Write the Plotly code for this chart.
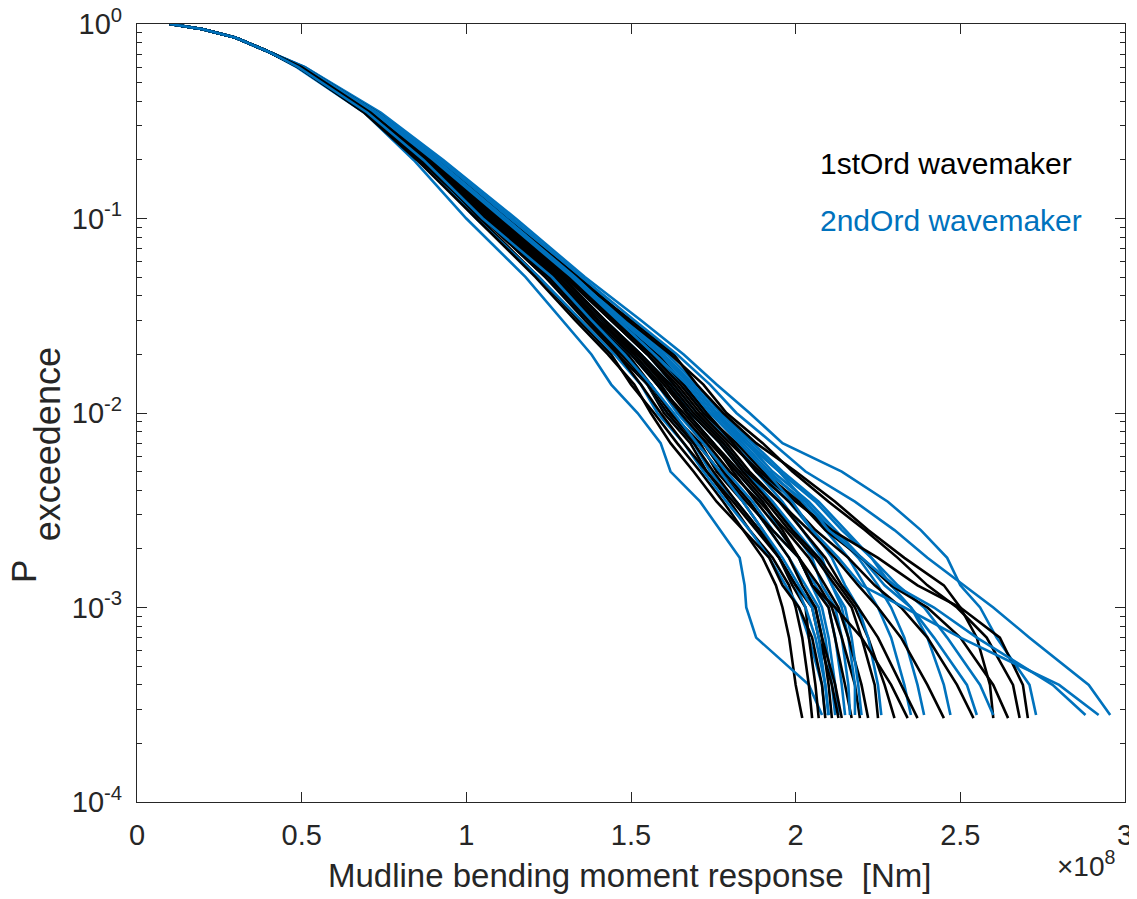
import plotly.graph_objects as go

# Upper part of the exceedance curves, where all runs coincide
p_top = [1.0, 0.94, 0.85, 0.72]
x_top = [0.10, 0.20, 0.30, 0.40]

# Exceedance probability levels at which each run's response is read (last = 1/N)
p_levels = [0.6, 0.35, 0.2, 0.1, 0.05, 0.03, 0.02, 0.014, 0.01, 0.007,
            0.005, 0.0035, 0.0025, 0.0018, 0.0013, 0.001, 0.0007, 0.0004]
p_min_black = 2.7e-4
p_min_blue = 2.8e-4

# Mudline bending moment [x1e8 Nm] for each 1st-order wavemaker run
black_runs = [
    [0.495, 0.70, 0.86, 1.04, 1.22, 1.34, 1.44, 1.50, 1.57, 1.64, 1.71, 1.78, 1.84, 1.90, 1.94, 1.96, 1.98, 2.00, 2.02],
    [0.49, 0.70, 0.87, 1.05, 1.24, 1.37, 1.46, 1.55, 1.60, 1.68, 1.73, 1.80, 1.86, 1.93, 1.98, 2.00, 2.02, 2.04, 2.05],
    [0.50, 0.71, 0.88, 1.07, 1.27, 1.38, 1.49, 1.56, 1.62, 1.71, 1.76, 1.84, 1.90, 1.95, 1.99, 2.03, 2.04, 2.06, 2.07],
    [0.49, 0.69, 0.85, 1.03, 1.21, 1.33, 1.43, 1.51, 1.56, 1.62, 1.69, 1.76, 1.84, 1.92, 1.96, 2.01, 2.05, 2.08, 2.09],
    [0.50, 0.71, 0.88, 1.08, 1.28, 1.41, 1.51, 1.58, 1.65, 1.72, 1.78, 1.86, 1.92, 1.98, 2.02, 2.06, 2.08, 2.10, 2.11],
    [0.495, 0.70, 0.87, 1.06, 1.26, 1.38, 1.48, 1.55, 1.61, 1.69, 1.75, 1.82, 1.89, 1.95, 2.00, 2.05, 2.07, 2.11, 2.13],
    [0.50, 0.72, 0.89, 1.09, 1.29, 1.42, 1.53, 1.61, 1.67, 1.75, 1.81, 1.88, 1.95, 2.01, 2.05, 2.10, 2.12, 2.15, 2.17],
    [0.49, 0.70, 0.86, 1.05, 1.25, 1.37, 1.47, 1.56, 1.62, 1.70, 1.77, 1.85, 1.93, 2.01, 2.07, 2.11, 2.14, 2.18, 2.195],
    [0.50, 0.71, 0.88, 1.07, 1.28, 1.40, 1.51, 1.59, 1.65, 1.73, 1.80, 1.89, 1.97, 2.04, 2.09, 2.13, 2.16, 2.20, 2.22],
    [0.50, 0.71, 0.89, 1.08, 1.29, 1.42, 1.52, 1.61, 1.68, 1.77, 1.84, 1.92, 1.99, 2.07, 2.13, 2.18, 2.22, 2.27, 2.30],
    [0.495, 0.70, 0.87, 1.06, 1.27, 1.39, 1.50, 1.58, 1.66, 1.74, 1.82, 1.90, 1.96, 2.01, 2.05, 2.12, 2.20, 2.29, 2.34],
    [0.50, 0.72, 0.90, 1.10, 1.30, 1.44, 1.55, 1.63, 1.70, 1.79, 1.86, 1.95, 2.02, 2.09, 2.14, 2.19, 2.25, 2.32, 2.37],
    [0.50, 0.71, 0.88, 1.08, 1.29, 1.42, 1.53, 1.62, 1.69, 1.78, 1.85, 1.95, 2.04, 2.12, 2.19, 2.25, 2.32, 2.40, 2.45],
    [0.50, 0.72, 0.90, 1.11, 1.32, 1.46, 1.58, 1.66, 1.73, 1.81, 1.88, 1.98, 2.06, 2.16, 2.24, 2.32, 2.40, 2.49, 2.54],
    [0.505, 0.73, 0.91, 1.12, 1.33, 1.50, 1.63, 1.70, 1.78, 1.88, 2.00, 2.12, 2.22, 2.33, 2.45, 2.50, 2.55, 2.59, 2.60],
    [0.50, 0.72, 0.90, 1.10, 1.31, 1.45, 1.56, 1.65, 1.72, 1.82, 1.90, 2.01, 2.09, 2.20, 2.29, 2.40, 2.50, 2.60, 2.645],
    [0.505, 0.73, 0.91, 1.12, 1.34, 1.49, 1.62, 1.72, 1.79, 1.90, 1.99, 2.10, 2.21, 2.31, 2.40, 2.49, 2.58, 2.66, 2.68],
    [0.50, 0.72, 0.89, 1.09, 1.30, 1.44, 1.55, 1.64, 1.71, 1.80, 1.89, 2.00, 2.11, 2.25, 2.37, 2.50, 2.62, 2.69, 2.705],
    [0.49, 0.70, 0.86, 1.05, 1.24, 1.36, 1.46, 1.53, 1.59, 1.66, 1.73, 1.81, 1.88, 1.95, 2.00, 2.06, 2.08, 2.12, 2.14],
    [0.50, 0.71, 0.88, 1.07, 1.28, 1.40, 1.52, 1.60, 1.67, 1.75, 1.83, 1.91, 1.98, 2.06, 2.12, 2.17, 2.20, 2.24, 2.25],
]

# Mudline bending moment [x1e8 Nm] for each 2nd-order wavemaker run
blue_runs = [
    [0.485, 0.69, 0.84, 1.00, 1.18, 1.29, 1.38, 1.44, 1.52, 1.59, 1.62, 1.71, 1.77, 1.83, 1.845, 1.85, 1.88, 2.04, 2.08],
    [0.49, 0.70, 0.86, 1.03, 1.22, 1.35, 1.45, 1.53, 1.58, 1.66, 1.72, 1.79, 1.86, 1.92, 1.97, 2.01, 2.04, 2.08, 2.09],
    [0.495, 0.70, 0.87, 1.05, 1.25, 1.37, 1.48, 1.55, 1.61, 1.69, 1.74, 1.82, 1.89, 1.95, 2.00, 2.03, 2.06, 2.09, 2.10],
    [0.50, 0.71, 0.88, 1.07, 1.27, 1.39, 1.50, 1.58, 1.64, 1.72, 1.78, 1.86, 1.92, 1.98, 2.03, 2.07, 2.09, 2.11, 2.12],
    [0.50, 0.71, 0.89, 1.09, 1.29, 1.42, 1.53, 1.61, 1.67, 1.75, 1.82, 1.90, 1.95, 2.01, 2.05, 2.08, 2.10, 2.12, 2.13],
    [0.495, 0.71, 0.88, 1.07, 1.27, 1.40, 1.51, 1.59, 1.65, 1.72, 1.79, 1.87, 1.93, 2.01, 2.06, 2.10, 2.12, 2.14, 2.15],
    [0.50, 0.72, 0.90, 1.10, 1.31, 1.44, 1.55, 1.63, 1.70, 1.78, 1.85, 1.93, 1.99, 2.05, 2.08, 2.12, 2.14, 2.16, 2.165],
    [0.505, 0.72, 0.90, 1.11, 1.32, 1.46, 1.57, 1.66, 1.73, 1.81, 1.88, 1.96, 2.02, 2.08, 2.11, 2.14, 2.16, 2.18, 2.18],
    [0.50, 0.71, 0.89, 1.08, 1.29, 1.42, 1.53, 1.62, 1.68, 1.77, 1.84, 1.93, 2.00, 2.07, 2.11, 2.15, 2.17, 2.19, 2.20],
    [0.50, 0.72, 0.90, 1.10, 1.31, 1.45, 1.57, 1.66, 1.72, 1.81, 1.89, 1.98, 2.05, 2.11, 2.15, 2.19, 2.22, 2.25, 2.26],
    [0.505, 0.73, 0.91, 1.12, 1.33, 1.47, 1.59, 1.68, 1.75, 1.84, 1.92, 2.02, 2.09, 2.16, 2.21, 2.25, 2.29, 2.33, 2.35],
    [0.50, 0.72, 0.90, 1.11, 1.32, 1.46, 1.58, 1.67, 1.74, 1.83, 1.91, 2.03, 2.11, 2.19, 2.25, 2.29, 2.33, 2.37, 2.39],
    [0.505, 0.73, 0.92, 1.13, 1.35, 1.49, 1.61, 1.70, 1.77, 1.87, 1.96, 2.07, 2.15, 2.23, 2.29, 2.35, 2.40, 2.45, 2.47],
    [0.51, 0.73, 0.92, 1.13, 1.34, 1.48, 1.60, 1.69, 1.76, 1.85, 1.93, 2.04, 2.12, 2.20, 2.27, 2.35, 2.42, 2.52, 2.55],
    [0.50, 0.72, 0.91, 1.12, 1.33, 1.47, 1.59, 1.68, 1.75, 1.85, 1.95, 2.06, 2.14, 2.23, 2.31, 2.39, 2.46, 2.56, 2.60],
    [0.51, 0.74, 0.93, 1.15, 1.36, 1.53, 1.66, 1.76, 1.86, 1.96, 2.14, 2.28, 2.38, 2.46, 2.50, 2.56, 2.61, 2.71, 2.73],
    [0.505, 0.73, 0.92, 1.14, 1.35, 1.51, 1.64, 1.74, 1.82, 1.93, 2.03, 2.18, 2.30, 2.40, 2.51, 2.60, 2.71, 2.89, 2.955],
    [0.50, 0.72, 0.91, 1.12, 1.33, 1.47, 1.59, 1.69, 1.76, 1.86, 1.95, 2.03, 2.10, 2.20, 2.30, 2.42, 2.55, 2.78, 2.88],
    [0.505, 0.72, 0.90, 1.11, 1.32, 1.46, 1.57, 1.67, 1.74, 1.83, 1.91, 1.99, 2.05, 2.13, 2.20, 2.33, 2.50, 2.80, 2.92],
    [0.49, 0.70, 0.87, 1.05, 1.26, 1.38, 1.48, 1.56, 1.63, 1.70, 1.77, 1.84, 1.90, 1.96, 2.01, 2.05, 2.07, 2.09, 2.10],
]

x_tick_vals = [0, 0.5, 1, 1.5, 2, 2.5, 3]
x_tick_text = ["0", "0.5", "1", "1.5", "2", "2.5", "3"]
y_tick_vals = [1e-4, 1e-3, 1e-2, 1e-1, 1]
y_tick_text = ["10<sup>-4</sup>", "10<sup>-3</sup>", "10<sup>-2</sup>", "10<sup>-1</sup>", "10<sup>0</sup>"]

BLACK = "#000000"
BLUE = "#0072BD"
AXIS = "#262626"
FONT = "Liberation Sans, Arial, sans-serif"

fig = go.Figure()
# interleave the two groups so that neither colour fully hides the other
for run_k, run_b in zip(black_runs, blue_runs):
    fig.add_trace(go.Scatter(x=x_top + run_k, y=p_top + p_levels + [p_min_black],
                             mode="lines", line=dict(color=BLACK, width=2.6),
                             showlegend=False, hoverinfo="skip"))
    fig.add_trace(go.Scatter(x=x_top + run_b, y=p_top + p_levels + [p_min_blue],
                             mode="lines", line=dict(color=BLUE, width=2.6),
                             showlegend=False, hoverinfo="skip"))

minor_vals = [k * 10.0 ** e for e in range(-4, 0) for k in range(2, 10)]

fig.update_layout(
    width=1129, height=891,
    margin=dict(l=129, r=12, t=16, b=97),
    paper_bgcolor="white", plot_bgcolor="white",
    font=dict(family=FONT, size=29, color=AXIS),
    xaxis=dict(range=[0, 3], tickvals=x_tick_vals, ticktext=x_tick_text,
               ticks="inside", ticklen=10, tickwidth=1, tickcolor=AXIS,
               showline=True, linecolor=AXIS, linewidth=1.2, mirror="ticks",
               showgrid=False, zeroline=False, ticklabelstandoff=7, automargin=False,
               ticklabeloverflow="allow",
               tickfont=dict(size=29, color=AXIS, family=FONT)),
    yaxis=dict(type="log", range=[-4, 0], tickvals=y_tick_vals, ticktext=y_tick_text,
               ticks="inside", ticklen=10, tickwidth=1, tickcolor=AXIS,
               showline=True, linecolor=AXIS, linewidth=1.2, mirror="ticks",
               showgrid=False, zeroline=False, ticklabelstandoff=8, automargin=False,
               ticklabeloverflow="allow",
               tickfont=dict(size=29, color=AXIS, family=FONT),
               minor=dict(tickvals=minor_vals, ticks="inside", ticklen=5,
                          tickcolor=AXIS, tickwidth=1, showgrid=False)),
    annotations=[
        dict(text="Mudline bending moment response  [Nm]", xref="paper", yref="paper",
             x=0.498, y=-0.095, xanchor="center", yanchor="middle", showarrow=False,
             font=dict(size=33, color=AXIS, family=FONT)),
        dict(text="\u00d710<sup>8</sup>", xref="paper", yref="paper",
             x=0.929, y=-0.080, xanchor="left", yanchor="middle", showarrow=False,
             font=dict(size=28, color=AXIS, family=FONT)),
        dict(text="P", xref="paper", yref="paper",
             x=-0.1144, y=0.297, xanchor="center", yanchor="middle", showarrow=False,
             textangle=-90, font=dict(size=35, color=AXIS, family=FONT)),
        dict(text="exceedence", xref="paper", yref="paper",
             x=-0.091, y=0.460, xanchor="center", yanchor="middle", showarrow=False,
             textangle=-90, font=dict(size=36, color=AXIS, family=FONT)),
        dict(text="1stOrd wavemaker", xref="paper", yref="paper",
             x=0.689, y=0.821, xanchor="left", yanchor="middle", showarrow=False,
             font=dict(size=30, color="#000000", family=FONT)),
        dict(text="2ndOrd wavemaker", xref="paper", yref="paper",
             x=0.689, y=0.747, xanchor="left", yanchor="middle", showarrow=False,
             font=dict(size=30, color=BLUE, family=FONT)),
    ],
)

fig.write_html("out.html")
